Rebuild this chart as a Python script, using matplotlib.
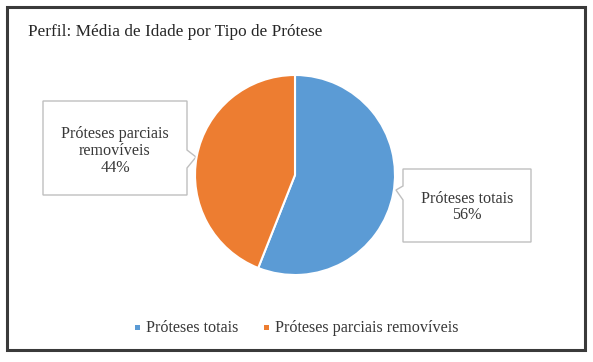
import matplotlib.pyplot as plt
from matplotlib.patches import Polygon, Rectangle
import numpy as np

plt.rcParams['font.family'] = ['Liberation Serif', 'DejaVu Serif']

title = 'Perfil: Média de Idade por Tipo de Prótese'
labels = ['Próteses totais', 'Próteses parciais removíveis']
label_lines = ['Próteses totais', 'Próteses parciais\nremovíveis']
shares = [56, 44]
colors = ['#5B9BD5', '#ED7D31']

W, H = 593, 362
fig = plt.figure(figsize=(W / 100, H / 100), dpi=100)

# overlay axes in pixel coords for frame, title, callouts, legend
bg = fig.add_axes([0, 0, 1, 1])
bg.set_xlim(0, W)
bg.set_ylim(H, 0)
bg.axis('off')

bg.add_patch(Rectangle((7, 7), 578, 343, fill=False, edgecolor='#3a3a3a', lw=2.2))
bg.text(28, 32, title, fontsize=12.4, color='#262626', va='center', ha='left')

# pie
cx, cy, r = 295, 175, 100
pax = fig.add_axes([(cx - r) / W, (H - cy - r) / H, 2 * r / W, 2 * r / H])
pax.pie(shares, colors=colors, startangle=90, counterclock=False,
        wedgeprops=dict(edgecolor='white', linewidth=1.5))
pax.set_xlim(-1, 1)
pax.set_ylim(-1, 1)
pax.set_aspect('auto')

# callout boxes
def callout(pts, text, tx, ty):
    bg.add_patch(Polygon(pts, closed=True, facecolor='white',
                         edgecolor='#bfbfbf', lw=1.0, zorder=3))
    bg.text(tx, ty, text, ha='center', va='center', fontsize=11.6,
            color='#383838', linespacing=1.08, zorder=4)

left = [(43, 101), (187, 101), (187, 150), (196, 157), (187, 168), (187, 195), (43, 195)]
callout(left, f'{label_lines[1]}\n{shares[1]}%', 115, 151)

right = [(403, 169), (531, 169), (531, 242), (403, 242), (403, 200), (396, 190), (403, 186)]
callout(right, f'{label_lines[0]}\n{shares[0]}%', 467, 207)

# legend
for x0, lab, col in zip([138, 267], labels, colors):
    bg.add_patch(Rectangle((x0 - 3, 325), 5, 5, facecolor=col, edgecolor='none'))
    bg.text(x0 + 8, 328, lab, fontsize=11.6, color='#383838', va='center', ha='left')

fig.savefig('out.png', dpi=100)
